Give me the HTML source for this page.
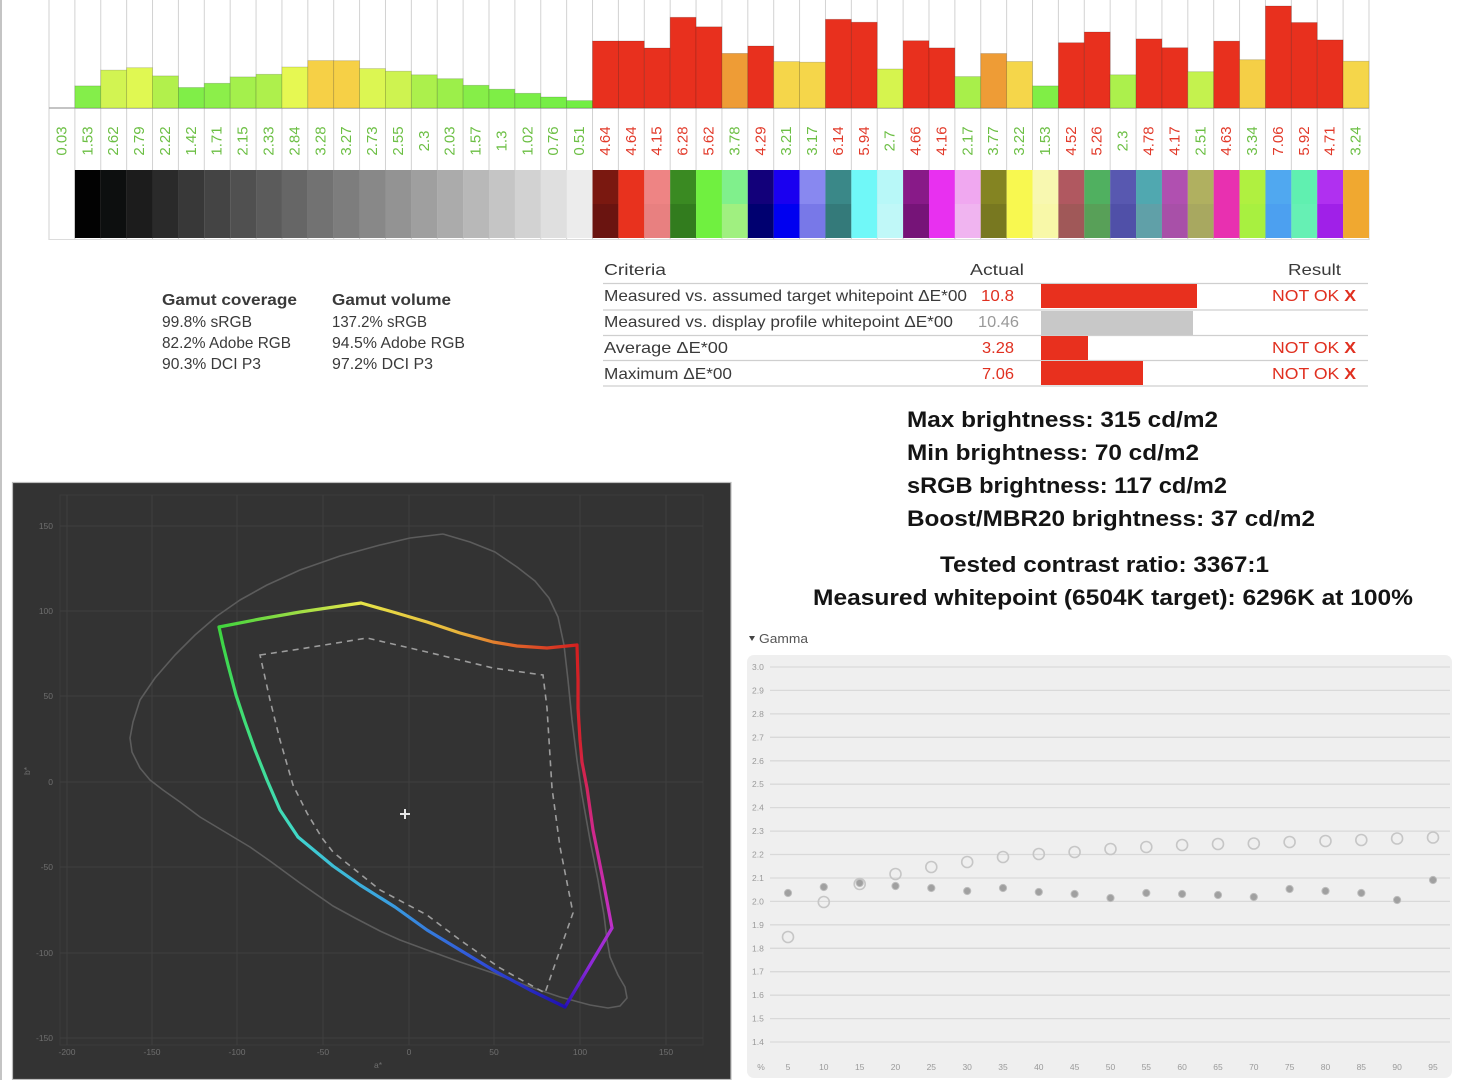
<!DOCTYPE html>
<html><head><meta charset="utf-8"><style>
html,body{margin:0;padding:0;background:#fff;}
svg{display:block;}
text{font-family:"Liberation Sans",Arial,sans-serif;}
.g{fill:#6cbf44;font-size:15px;}
.r{fill:#e23a2a;font-size:15px;}
.tk{fill:#6f6f6f;font-size:8.5px;}
.gy{fill:#9a9a9a;font-size:8.5px;}
.ct{fill:#3a3a3a;font-size:16px;}
.br{fill:#141414;font-size:22px;font-weight:bold;}
.gt{fill:#3a3a3a;font-size:16px;}
</style></head><body>
<svg width="1466" height="1080" viewBox="0 0 1466 1080" xmlns="http://www.w3.org/2000/svg">
<rect x="0" y="0" width="1466" height="1080" fill="#fff"/>
<rect x="0" y="0" width="2" height="1080" fill="#c4c4c4"/>

<!-- ===== top chart column lines ===== -->
<g stroke="#d2d2d2" stroke-width="1">
<line x1="49" y1="0" x2="49" y2="240"/><line x1="74.88" y1="0" x2="74.88" y2="240"/><line x1="100.76" y1="0" x2="100.76" y2="240"/><line x1="126.65" y1="0" x2="126.65" y2="240"/><line x1="152.53" y1="0" x2="152.53" y2="240"/><line x1="178.41" y1="0" x2="178.41" y2="240"/><line x1="204.29" y1="0" x2="204.29" y2="240"/><line x1="230.17" y1="0" x2="230.17" y2="240"/><line x1="256.06" y1="0" x2="256.06" y2="240"/><line x1="281.94" y1="0" x2="281.94" y2="240"/><line x1="307.82" y1="0" x2="307.82" y2="240"/><line x1="333.7" y1="0" x2="333.7" y2="240"/><line x1="359.58" y1="0" x2="359.58" y2="240"/><line x1="385.47" y1="0" x2="385.47" y2="240"/><line x1="411.35" y1="0" x2="411.35" y2="240"/><line x1="437.23" y1="0" x2="437.23" y2="240"/><line x1="463.11" y1="0" x2="463.11" y2="240"/><line x1="489" y1="0" x2="489" y2="240"/><line x1="514.88" y1="0" x2="514.88" y2="240"/><line x1="540.76" y1="0" x2="540.76" y2="240"/><line x1="566.64" y1="0" x2="566.64" y2="240"/><line x1="592.52" y1="0" x2="592.52" y2="240"/><line x1="618.4" y1="0" x2="618.4" y2="240"/><line x1="644.29" y1="0" x2="644.29" y2="240"/><line x1="670.17" y1="0" x2="670.17" y2="240"/><line x1="696.05" y1="0" x2="696.05" y2="240"/><line x1="721.93" y1="0" x2="721.93" y2="240"/><line x1="747.81" y1="0" x2="747.81" y2="240"/><line x1="773.7" y1="0" x2="773.7" y2="240"/><line x1="799.58" y1="0" x2="799.58" y2="240"/><line x1="825.46" y1="0" x2="825.46" y2="240"/><line x1="851.34" y1="0" x2="851.34" y2="240"/><line x1="877.22" y1="0" x2="877.22" y2="240"/><line x1="903.11" y1="0" x2="903.11" y2="240"/><line x1="928.99" y1="0" x2="928.99" y2="240"/><line x1="954.87" y1="0" x2="954.87" y2="240"/><line x1="980.75" y1="0" x2="980.75" y2="240"/><line x1="1006.63" y1="0" x2="1006.63" y2="240"/><line x1="1032.52" y1="0" x2="1032.52" y2="240"/><line x1="1058.4" y1="0" x2="1058.4" y2="240"/><line x1="1084.28" y1="0" x2="1084.28" y2="240"/><line x1="1110.16" y1="0" x2="1110.16" y2="240"/><line x1="1136.04" y1="0" x2="1136.04" y2="240"/><line x1="1161.93" y1="0" x2="1161.93" y2="240"/><line x1="1187.81" y1="0" x2="1187.81" y2="240"/><line x1="1213.69" y1="0" x2="1213.69" y2="240"/><line x1="1239.57" y1="0" x2="1239.57" y2="240"/><line x1="1265.45" y1="0" x2="1265.45" y2="240"/><line x1="1291.34" y1="0" x2="1291.34" y2="240"/><line x1="1317.22" y1="0" x2="1317.22" y2="240"/><line x1="1343.1" y1="0" x2="1343.1" y2="240"/><line x1="1368.98" y1="0" x2="1368.98" y2="240"/>
</g>
<line x1="49" y1="108" x2="1369" y2="108" stroke="#b0b0b0" stroke-width="1.5"/>
<line x1="49" y1="239.5" x2="1369" y2="239.5" stroke="#dcdcdc" stroke-width="1"/>

<!-- ===== bars ===== -->
<g stroke="rgba(0,0,0,0.18)" stroke-width="0.8">
<rect x="74.88" y="85.9" width="25.88" height="22.1" fill="#84ee4a"/>
<rect x="100.76" y="70.1" width="25.88" height="37.9" fill="#d2f452"/>
<rect x="126.65" y="67.7" width="25.88" height="40.3" fill="#e0f852"/>
<rect x="152.53" y="75.9" width="25.88" height="32.1" fill="#b2f04c"/>
<rect x="178.41" y="87.5" width="25.88" height="20.5" fill="#80ee48"/>
<rect x="204.29" y="83.3" width="25.88" height="24.7" fill="#8cef4a"/>
<rect x="230.17" y="76.9" width="25.88" height="31.1" fill="#a4f04c"/>
<rect x="256.06" y="74.3" width="25.88" height="33.7" fill="#aef04c"/>
<rect x="281.94" y="67" width="25.88" height="41" fill="#e6f852"/>
<rect x="307.82" y="60.6" width="25.88" height="47.4" fill="#f6d046"/>
<rect x="333.7" y="60.7" width="25.88" height="47.3" fill="#f6d046"/>
<rect x="359.58" y="68.6" width="25.88" height="39.4" fill="#dcf652"/>
<rect x="385.47" y="71.2" width="25.88" height="36.8" fill="#cef350"/>
<rect x="411.35" y="74.8" width="25.88" height="33.2" fill="#acf04c"/>
<rect x="437.23" y="78.7" width="25.88" height="29.3" fill="#9cef4a"/>
<rect x="463.11" y="85.3" width="25.88" height="22.7" fill="#86ee48"/>
<rect x="489" y="89.2" width="25.88" height="18.8" fill="#7eee46"/>
<rect x="514.88" y="93.3" width="25.88" height="14.7" fill="#7aee46"/>
<rect x="540.76" y="97" width="25.88" height="11" fill="#76ee46"/>
<rect x="566.64" y="100.6" width="25.88" height="7.4" fill="#72ee44"/>
<rect x="592.52" y="41" width="25.88" height="67" fill="#e8301e"/>
<rect x="618.4" y="41" width="25.88" height="67" fill="#e8301e"/>
<rect x="644.29" y="48" width="25.88" height="60" fill="#e8301e"/>
<rect x="670.17" y="17.3" width="25.88" height="90.7" fill="#e8301e"/>
<rect x="696.05" y="26.8" width="25.88" height="81.2" fill="#e8301e"/>
<rect x="721.93" y="53.4" width="25.88" height="54.6" fill="#ee9c36"/>
<rect x="747.81" y="46" width="25.88" height="62" fill="#e8301e"/>
<rect x="773.7" y="61.6" width="25.88" height="46.4" fill="#f5d64a"/>
<rect x="799.58" y="62.2" width="25.88" height="45.8" fill="#f5d64a"/>
<rect x="825.46" y="19.3" width="25.88" height="88.7" fill="#e8301e"/>
<rect x="851.34" y="22.2" width="25.88" height="85.8" fill="#e8301e"/>
<rect x="877.22" y="69" width="25.88" height="39" fill="#d6f44e"/>
<rect x="903.11" y="40.7" width="25.88" height="67.3" fill="#e8301e"/>
<rect x="928.99" y="47.9" width="25.88" height="60.1" fill="#e8301e"/>
<rect x="954.87" y="76.6" width="25.88" height="31.4" fill="#a8ef4a"/>
<rect x="980.75" y="53.5" width="25.88" height="54.5" fill="#ee9c36"/>
<rect x="1006.63" y="61.5" width="25.88" height="46.5" fill="#f5d64a"/>
<rect x="1032.52" y="85.9" width="25.88" height="22.1" fill="#80ee46"/>
<rect x="1058.4" y="42.7" width="25.88" height="65.3" fill="#e8301e"/>
<rect x="1084.28" y="32" width="25.88" height="76" fill="#e8301e"/>
<rect x="1110.16" y="74.8" width="25.88" height="33.2" fill="#acf04c"/>
<rect x="1136.04" y="38.9" width="25.88" height="69.1" fill="#e8301e"/>
<rect x="1161.93" y="47.7" width="25.88" height="60.3" fill="#e8301e"/>
<rect x="1187.81" y="71.7" width="25.88" height="36.3" fill="#c4f24e"/>
<rect x="1213.69" y="41.1" width="25.88" height="66.9" fill="#e8301e"/>
<rect x="1239.57" y="59.7" width="25.88" height="48.3" fill="#f5cf46"/>
<rect x="1265.45" y="6" width="25.88" height="102" fill="#e8301e"/>
<rect x="1291.34" y="22.5" width="25.88" height="85.5" fill="#e8301e"/>
<rect x="1317.22" y="39.9" width="25.88" height="68.1" fill="#e8301e"/>
<rect x="1343.1" y="61.2" width="25.88" height="46.8" fill="#f5d64a"/>
</g>

<!-- ===== value labels ===== -->
<g text-anchor="middle" dominant-baseline="central">
<text class="g" transform="translate(61.94,141) rotate(-90)">0.03</text>
<text class="g" transform="translate(87.82,141) rotate(-90)">1.53</text>
<text class="g" transform="translate(113.7,141) rotate(-90)">2.62</text>
<text class="g" transform="translate(139.59,141) rotate(-90)">2.79</text>
<text class="g" transform="translate(165.47,141) rotate(-90)">2.22</text>
<text class="g" transform="translate(191.35,141) rotate(-90)">1.42</text>
<text class="g" transform="translate(217.23,141) rotate(-90)">1.71</text>
<text class="g" transform="translate(243.11,141) rotate(-90)">2.15</text>
<text class="g" transform="translate(269,141) rotate(-90)">2.33</text>
<text class="g" transform="translate(294.88,141) rotate(-90)">2.84</text>
<text class="g" transform="translate(320.76,141) rotate(-90)">3.28</text>
<text class="g" transform="translate(346.64,141) rotate(-90)">3.27</text>
<text class="g" transform="translate(372.52,141) rotate(-90)">2.73</text>
<text class="g" transform="translate(398.41,141) rotate(-90)">2.55</text>
<text class="g" transform="translate(424.29,141) rotate(-90)">2.3</text>
<text class="g" transform="translate(450.17,141) rotate(-90)">2.03</text>
<text class="g" transform="translate(476.05,141) rotate(-90)">1.57</text>
<text class="g" transform="translate(501.94,141) rotate(-90)">1.3</text>
<text class="g" transform="translate(527.82,141) rotate(-90)">1.02</text>
<text class="g" transform="translate(553.7,141) rotate(-90)">0.76</text>
<text class="g" transform="translate(579.58,141) rotate(-90)">0.51</text>
<text class="r" transform="translate(605.46,141) rotate(-90)">4.64</text>
<text class="r" transform="translate(631.34,141) rotate(-90)">4.64</text>
<text class="r" transform="translate(657.23,141) rotate(-90)">4.15</text>
<text class="r" transform="translate(683.11,141) rotate(-90)">6.28</text>
<text class="r" transform="translate(708.99,141) rotate(-90)">5.62</text>
<text class="g" transform="translate(734.87,141) rotate(-90)">3.78</text>
<text class="r" transform="translate(760.75,141) rotate(-90)">4.29</text>
<text class="g" transform="translate(786.64,141) rotate(-90)">3.21</text>
<text class="g" transform="translate(812.52,141) rotate(-90)">3.17</text>
<text class="r" transform="translate(838.4,141) rotate(-90)">6.14</text>
<text class="r" transform="translate(864.28,141) rotate(-90)">5.94</text>
<text class="g" transform="translate(890.16,141) rotate(-90)">2.7</text>
<text class="r" transform="translate(916.05,141) rotate(-90)">4.66</text>
<text class="r" transform="translate(941.93,141) rotate(-90)">4.16</text>
<text class="g" transform="translate(967.81,141) rotate(-90)">2.17</text>
<text class="g" transform="translate(993.69,141) rotate(-90)">3.77</text>
<text class="g" transform="translate(1019.57,141) rotate(-90)">3.22</text>
<text class="g" transform="translate(1045.46,141) rotate(-90)">1.53</text>
<text class="r" transform="translate(1071.34,141) rotate(-90)">4.52</text>
<text class="r" transform="translate(1097.22,141) rotate(-90)">5.26</text>
<text class="g" transform="translate(1123.1,141) rotate(-90)">2.3</text>
<text class="r" transform="translate(1148.98,141) rotate(-90)">4.78</text>
<text class="r" transform="translate(1174.87,141) rotate(-90)">4.17</text>
<text class="g" transform="translate(1200.75,141) rotate(-90)">2.51</text>
<text class="r" transform="translate(1226.63,141) rotate(-90)">4.63</text>
<text class="g" transform="translate(1252.51,141) rotate(-90)">3.34</text>
<text class="r" transform="translate(1278.39,141) rotate(-90)">7.06</text>
<text class="r" transform="translate(1304.28,141) rotate(-90)">5.92</text>
<text class="r" transform="translate(1330.16,141) rotate(-90)">4.71</text>
<text class="g" transform="translate(1356.04,141) rotate(-90)">3.24</text>
</g>

<!-- ===== swatches ===== -->
<g>
<rect x="74.88" y="170" width="25.9" height="68" fill="#020202"/>
<rect x="100.76" y="170" width="25.9" height="68" fill="#0d0f0f"/>
<rect x="126.65" y="170" width="25.9" height="68" fill="#1c1c1c"/>
<rect x="152.53" y="170" width="25.9" height="68" fill="#2a2a2a"/>
<rect x="178.41" y="170" width="25.9" height="68" fill="#383838"/>
<rect x="204.29" y="170" width="25.9" height="68" fill="#444444"/>
<rect x="230.17" y="170" width="25.9" height="68" fill="#505050"/>
<rect x="256.06" y="170" width="25.9" height="68" fill="#5b5b5b"/>
<rect x="281.94" y="170" width="25.9" height="68" fill="#666666"/>
<rect x="307.82" y="170" width="25.9" height="68" fill="#727272"/>
<rect x="333.7" y="170" width="25.9" height="68" fill="#7d7d7d"/>
<rect x="359.58" y="170" width="25.9" height="68" fill="#888888"/>
<rect x="385.47" y="170" width="25.9" height="68" fill="#939393"/>
<rect x="411.35" y="170" width="25.9" height="68" fill="#9f9f9f"/>
<rect x="437.23" y="170" width="25.9" height="68" fill="#ababab"/>
<rect x="463.11" y="170" width="25.9" height="68" fill="#b8b8b8"/>
<rect x="489" y="170" width="25.9" height="68" fill="#c5c5c5"/>
<rect x="514.88" y="170" width="25.9" height="68" fill="#d2d2d2"/>
<rect x="540.76" y="170" width="25.9" height="68" fill="#dfdfdf"/>
<rect x="566.64" y="170" width="25.9" height="68" fill="#ececec"/>

<rect x="592.52" y="170" width="25.9" height="34" fill="#7a1810"/><rect x="592.52" y="204" width="25.9" height="34" fill="#6a1410"/>
<rect x="618.4" y="170" width="25.9" height="68" fill="#e8321e"/>
<rect x="644.29" y="170" width="25.9" height="34" fill="#ee8484"/><rect x="644.29" y="204" width="25.9" height="34" fill="#e88080"/>
<rect x="670.17" y="170" width="25.9" height="34" fill="#3a8a22"/><rect x="670.17" y="204" width="25.9" height="34" fill="#327c1e"/>
<rect x="696.05" y="170" width="25.9" height="68" fill="#70f040"/>
<rect x="721.93" y="170" width="25.9" height="34" fill="#80f08c"/><rect x="721.93" y="204" width="25.9" height="34" fill="#a0f080"/>
<rect x="747.81" y="170" width="25.9" height="34" fill="#12007a"/><rect x="747.81" y="204" width="25.9" height="34" fill="#000070"/>
<rect x="773.7" y="170" width="25.9" height="34" fill="#1a00f0"/><rect x="773.7" y="204" width="25.9" height="34" fill="#0000f0"/>
<rect x="799.58" y="170" width="25.9" height="34" fill="#8888f0"/><rect x="799.58" y="204" width="25.9" height="34" fill="#7878e8"/>
<rect x="825.46" y="170" width="25.9" height="34" fill="#3a8888"/><rect x="825.46" y="204" width="25.9" height="34" fill="#347a7a"/>
<rect x="851.34" y="170" width="25.9" height="68" fill="#70f8f8"/>
<rect x="877.22" y="170" width="25.9" height="34" fill="#b8f8f8"/><rect x="877.22" y="204" width="25.9" height="34" fill="#c0f8f8"/>
<rect x="903.11" y="170" width="25.9" height="34" fill="#881a88"/><rect x="903.11" y="204" width="25.9" height="34" fill="#761478"/>
<rect x="928.99" y="170" width="25.9" height="68" fill="#e830f0"/>
<rect x="954.87" y="170" width="25.9" height="34" fill="#f0a8f0"/><rect x="954.87" y="204" width="25.9" height="34" fill="#f0b4f0"/>
<rect x="980.75" y="170" width="25.9" height="34" fill="#848422"/><rect x="980.75" y="204" width="25.9" height="34" fill="#787820"/>
<rect x="1006.63" y="170" width="25.9" height="68" fill="#f8f850"/>
<rect x="1032.52" y="170" width="25.9" height="34" fill="#f8f8b0"/><rect x="1032.52" y="204" width="25.9" height="34" fill="#f8f8a8"/>
<rect x="1058.4" y="170" width="25.9" height="34" fill="#b05860"/><rect x="1058.4" y="204" width="25.9" height="34" fill="#a05858"/>
<rect x="1084.28" y="170" width="25.9" height="34" fill="#50b060"/><rect x="1084.28" y="204" width="25.9" height="34" fill="#58a058"/>
<rect x="1110.16" y="170" width="25.9" height="34" fill="#5858b0"/><rect x="1110.16" y="204" width="25.9" height="34" fill="#5050a8"/>
<rect x="1136.04" y="170" width="25.9" height="34" fill="#50a8b0"/><rect x="1136.04" y="204" width="25.9" height="34" fill="#60a0a8"/>
<rect x="1161.93" y="170" width="25.9" height="34" fill="#b050b0"/><rect x="1161.93" y="204" width="25.9" height="34" fill="#a850a8"/>
<rect x="1187.81" y="170" width="25.9" height="34" fill="#b0b060"/><rect x="1187.81" y="204" width="25.9" height="34" fill="#a8a860"/>
<rect x="1213.69" y="170" width="25.9" height="68" fill="#e830b0"/>
<rect x="1239.57" y="170" width="25.9" height="34" fill="#b0f040"/><rect x="1239.57" y="204" width="25.9" height="34" fill="#a8f040"/>
<rect x="1265.45" y="170" width="25.9" height="34" fill="#50a8f0"/><rect x="1265.45" y="204" width="25.9" height="34" fill="#4ca0f0"/>
<rect x="1291.34" y="170" width="25.9" height="34" fill="#60f0b0"/><rect x="1291.34" y="204" width="25.9" height="34" fill="#66f0b4"/>
<rect x="1317.22" y="170" width="25.9" height="34" fill="#b030f0"/><rect x="1317.22" y="204" width="25.9" height="34" fill="#a020e8"/>
<rect x="1343.1" y="170" width="25.9" height="68" fill="#f0a830"/>
</g>

<!-- ===== gamut text ===== -->
<text class="gt" x="162" y="305" font-weight="bold" fill="#222" textLength="135" lengthAdjust="spacingAndGlyphs">Gamut coverage</text>
<text class="gt" x="162" y="327" textLength="90" lengthAdjust="spacingAndGlyphs">99.8% sRGB</text>
<text class="gt" x="162" y="348" textLength="129" lengthAdjust="spacingAndGlyphs">82.2% Adobe RGB</text>
<text class="gt" x="162" y="369" textLength="99" lengthAdjust="spacingAndGlyphs">90.3% DCI P3</text>
<text class="gt" x="332" y="305" font-weight="bold" fill="#222" textLength="119" lengthAdjust="spacingAndGlyphs">Gamut volume</text>
<text class="gt" x="332" y="327" textLength="95" lengthAdjust="spacingAndGlyphs">137.2% sRGB</text>
<text class="gt" x="332" y="348" textLength="133" lengthAdjust="spacingAndGlyphs">94.5% Adobe RGB</text>
<text class="gt" x="332" y="369" textLength="101" lengthAdjust="spacingAndGlyphs">97.2% DCI P3</text>

<!-- ===== criteria table ===== -->
<text class="ct" x="604" y="275" textLength="62" lengthAdjust="spacingAndGlyphs">Criteria</text>
<text class="ct" x="970" y="275" textLength="54" lengthAdjust="spacingAndGlyphs">Actual</text>
<text class="ct" x="1288" y="275" textLength="53" lengthAdjust="spacingAndGlyphs">Result</text>
<g stroke="#cfcfcf" stroke-width="1.2">
<line x1="603" y1="283.5" x2="1368" y2="283.5"/>
<line x1="603" y1="310" x2="1368" y2="310"/>
<line x1="603" y1="335.5" x2="1368" y2="335.5"/>
<line x1="603" y1="360.5" x2="1368" y2="360.5"/>
<line x1="603" y1="386" x2="1368" y2="386"/>
</g>
<rect x="1041" y="284" width="156" height="24" fill="#e8301e"/>
<rect x="1041" y="311" width="152" height="24" fill="#c8c8c8"/>
<rect x="1041" y="336" width="47" height="24" fill="#e8301e"/>
<rect x="1041" y="361" width="102" height="24" fill="#e8301e"/>
<text class="ct" x="604" y="301" textLength="363" lengthAdjust="spacingAndGlyphs">Measured vs. assumed target whitepoint ΔE*00</text>
<text class="ct" x="604" y="327" textLength="349" lengthAdjust="spacingAndGlyphs">Measured vs. display profile whitepoint ΔE*00</text>
<text class="ct" x="604" y="353" textLength="124" lengthAdjust="spacingAndGlyphs">Average ΔE*00</text>
<text class="ct" x="604" y="379" textLength="128" lengthAdjust="spacingAndGlyphs">Maximum ΔE*00</text>
<text class="ct" x="981" y="301" fill="#e03020" textLength="33" lengthAdjust="spacingAndGlyphs" style="fill:#e03020">10.8</text>
<text class="ct" x="978" y="327" textLength="41" lengthAdjust="spacingAndGlyphs" style="fill:#999">10.46</text>
<text class="ct" x="982" y="353" textLength="32" lengthAdjust="spacingAndGlyphs" style="fill:#e03020">3.28</text>
<text class="ct" x="982" y="379" textLength="32" lengthAdjust="spacingAndGlyphs" style="fill:#e03020">7.06</text>
<text class="ct" x="1272" y="301" textLength="84" lengthAdjust="spacingAndGlyphs" style="fill:#e03020">NOT OK <tspan font-weight="bold">X</tspan></text>
<text class="ct" x="1272" y="353" textLength="84" lengthAdjust="spacingAndGlyphs" style="fill:#e03020">NOT OK <tspan font-weight="bold">X</tspan></text>
<text class="ct" x="1272" y="379" textLength="84" lengthAdjust="spacingAndGlyphs" style="fill:#e03020">NOT OK <tspan font-weight="bold">X</tspan></text>

<!-- ===== brightness text ===== -->
<text class="br" x="907" y="427" textLength="311" lengthAdjust="spacingAndGlyphs">Max brightness: 315 cd/m2</text>
<text class="br" x="907" y="460" textLength="292" lengthAdjust="spacingAndGlyphs">Min brightness: 70 cd/m2</text>
<text class="br" x="907" y="493" textLength="320" lengthAdjust="spacingAndGlyphs">sRGB brightness: 117 cd/m2</text>
<text class="br" x="907" y="526" textLength="408" lengthAdjust="spacingAndGlyphs">Boost/MBR20 brightness: 37 cd/m2</text>
<text class="br" x="940" y="572" textLength="329" lengthAdjust="spacingAndGlyphs">Tested contrast ratio: 3367:1</text>
<text class="br" x="813" y="605" textLength="600" lengthAdjust="spacingAndGlyphs">Measured whitepoint (6504K target): 6296K at 100%</text>

<!-- ===== gamut plot ===== -->
<defs>
<linearGradient id="s1" gradientUnits="userSpaceOnUse" x1="219" y1="627" x2="361" y2="603"><stop offset="0" stop-color="#3ed43e"/><stop offset="1" stop-color="#e8e64a"/></linearGradient>
<linearGradient id="s2" gradientUnits="userSpaceOnUse" x1="361" y1="603" x2="577" y2="645"><stop offset="0" stop-color="#e6e448"/><stop offset="0.45" stop-color="#e8b63c"/><stop offset="0.7" stop-color="#e06a2a"/><stop offset="1" stop-color="#d42020"/></linearGradient>
<linearGradient id="s3" gradientUnits="userSpaceOnUse" x1="577" y1="645" x2="612" y2="928"><stop offset="0" stop-color="#d42020"/><stop offset="0.35" stop-color="#d42232"/><stop offset="0.65" stop-color="#d0288a"/><stop offset="1" stop-color="#c030c8"/></linearGradient>
<linearGradient id="s4" gradientUnits="userSpaceOnUse" x1="612" y1="928" x2="565" y2="1007"><stop offset="0" stop-color="#b030d0"/><stop offset="0.5" stop-color="#8a28d8"/><stop offset="1" stop-color="#2a10b8"/></linearGradient>
<linearGradient id="s5" gradientUnits="userSpaceOnUse" x1="565" y1="1007" x2="298" y2="837"><stop offset="0" stop-color="#2010b0"/><stop offset="0.3" stop-color="#3050d8"/><stop offset="0.65" stop-color="#3aa0e0"/><stop offset="1" stop-color="#40d4d0"/></linearGradient>
<linearGradient id="s6" gradientUnits="userSpaceOnUse" x1="298" y1="837" x2="219" y2="627"><stop offset="0" stop-color="#40d8c8"/><stop offset="0.5" stop-color="#40e080"/><stop offset="1" stop-color="#3ed43e"/></linearGradient>
</defs>
<rect x="12.5" y="482.5" width="718.5" height="597" fill="#333333" stroke="#bdbdbd" stroke-width="1.2"/>
<rect x="60" y="495" width="643" height="550" fill="none" stroke="#3b3b3b" stroke-width="1"/>
<g stroke="#3f3f3f" stroke-width="1">
<line x1="60" y1="526" x2="703" y2="526"/><line x1="60" y1="611" x2="703" y2="611"/><line x1="60" y1="696" x2="703" y2="696"/><line x1="60" y1="782" x2="703" y2="782"/><line x1="60" y1="867" x2="703" y2="867"/><line x1="60" y1="953" x2="703" y2="953"/><line x1="60" y1="1038" x2="703" y2="1038"/>
<line x1="67" y1="495" x2="67" y2="1045"/><line x1="152" y1="495" x2="152" y2="1045"/><line x1="237" y1="495" x2="237" y2="1045"/><line x1="323" y1="495" x2="323" y2="1045"/><line x1="409" y1="495" x2="409" y2="1045"/><line x1="494" y1="495" x2="494" y2="1045"/><line x1="580" y1="495" x2="580" y2="1045"/><line x1="666" y1="495" x2="666" y2="1045"/>
</g>
<g class="tk" text-anchor="end">
<text x="53" y="529" class="tk">150</text><text x="53" y="614" class="tk">100</text><text x="53" y="699" class="tk">50</text><text x="53" y="785" class="tk">0</text><text x="53" y="870" class="tk">-50</text><text x="53" y="956" class="tk">-100</text><text x="53" y="1041" class="tk">-150</text>
</g>
<g text-anchor="middle">
<text x="67" y="1055" class="tk">-200</text><text x="152" y="1055" class="tk">-150</text><text x="237" y="1055" class="tk">-100</text><text x="323" y="1055" class="tk">-50</text><text x="409" y="1055" class="tk">0</text><text x="494" y="1055" class="tk">50</text><text x="580" y="1055" class="tk">100</text><text x="666" y="1055" class="tk">150</text>
</g>
<text class="tk" transform="translate(30,771) rotate(-90)" text-anchor="middle">b*</text>
<text class="tk" x="378" y="1068" text-anchor="middle">a*</text>

<polyline fill="none" stroke="#5c5c5c" stroke-width="1.6" stroke-linejoin="round" points="443,534 470,542 495,552 517,567 535,581 549,598 558,617 564,645 568,680 572,720 577,760 582,795 590,840 598,880 604,915 607,940 610,957 618,975 625,987 627,998 620,1006 608,1008 590,1005 560,997 525,985 493,973 460,962 427,950 400,940 380,931 355,918 333,906 300,883 270,861 250,847 220,829 200,817 180,802 163,790 150,780 140,768 132,752 130,738 133,722 140,700 155,678 175,655 195,635 217,616 240,600 267,585 300,570 340,556 380,545 410,538 443,534"/>

<path fill="none" stroke="#9c9c9c" stroke-width="1.6" stroke-dasharray="6 5" d="M260,655 L300,649 L367,638 L427,652 L493,668 L543,675 L547,708 L552,788 L560,847 L573,913 L560,950 L545,993 L500,968 L460,940 L427,915 L380,890 L333,852 L322,838 L307,813 L293,785 L280,740 L270,700 Z"/>

<g fill="none" stroke-width="3.2" stroke-linejoin="round" stroke-linecap="round">
<polyline stroke="url(#s1)" points="219,627 260,619 300,612 361,603"/>
<polyline stroke="url(#s2)" points="361,603 393,612 427,622 460,633 493,642 517,646 547,648 577,645"/>
<polyline stroke="url(#s3)" points="577,645 578,680 578,708 580,740 582,762 587,788 593,830 603,880 612,928"/>
<polyline stroke="url(#s4)" points="612,928 593,960 577,987 565,1007"/>
<polyline stroke="url(#s5)" points="565,1007 530,990 493,970 460,950 427,930 395,907 360,885 333,866 298,837"/>
<polyline stroke="url(#s6)" points="298,837 280,810 267,780 255,750 245,722 236,695 228,665 223,645 219,627"/>
</g>
<g stroke="#e6e6e6" stroke-width="2"><line x1="400" y1="814" x2="410" y2="814"/><line x1="405" y1="809" x2="405" y2="819"/></g>

<!-- ===== gamma chart ===== -->
<polygon points="749,636 755,636 752,641" fill="#444"/>
<text x="759" y="643" font-size="13" fill="#555" textLength="49" lengthAdjust="spacingAndGlyphs">Gamma</text>
<rect x="747" y="655" width="705" height="423" rx="7" fill="#efefef"/>
<g stroke="#d9d9d9" stroke-width="1.3">
<line x1="770" y1="667" x2="1450" y2="667"/><line x1="770" y1="690.4" x2="1450" y2="690.4"/><line x1="770" y1="713.9" x2="1450" y2="713.9"/><line x1="770" y1="737.3" x2="1450" y2="737.3"/><line x1="770" y1="760.8" x2="1450" y2="760.8"/><line x1="770" y1="784.2" x2="1450" y2="784.2"/><line x1="770" y1="807.6" x2="1450" y2="807.6"/><line x1="770" y1="831.1" x2="1450" y2="831.1"/><line x1="770" y1="854.5" x2="1450" y2="854.5"/><line x1="770" y1="878" x2="1450" y2="878"/><line x1="770" y1="901.4" x2="1450" y2="901.4"/><line x1="770" y1="924.8" x2="1450" y2="924.8"/><line x1="770" y1="948.3" x2="1450" y2="948.3"/><line x1="770" y1="971.7" x2="1450" y2="971.7"/><line x1="770" y1="995.2" x2="1450" y2="995.2"/><line x1="770" y1="1018.6" x2="1450" y2="1018.6"/><line x1="770" y1="1042" x2="1450" y2="1042"/>
</g>
<g>
<text class="gy" x="752" y="670">3.0</text><text class="gy" x="752" y="693.4">2.9</text><text class="gy" x="752" y="716.9">2.8</text><text class="gy" x="752" y="740.3">2.7</text><text class="gy" x="752" y="763.8">2.6</text><text class="gy" x="752" y="787.2">2.5</text><text class="gy" x="752" y="810.6">2.4</text><text class="gy" x="752" y="834.1">2.3</text><text class="gy" x="752" y="857.5">2.2</text><text class="gy" x="752" y="881">2.1</text><text class="gy" x="752" y="904.4">2.0</text><text class="gy" x="752" y="927.8">1.9</text><text class="gy" x="752" y="951.3">1.8</text><text class="gy" x="752" y="974.7">1.7</text><text class="gy" x="752" y="998.2">1.6</text><text class="gy" x="752" y="1021.6">1.5</text><text class="gy" x="752" y="1045">1.4</text>
</g>
<g text-anchor="middle">
<text class="gy" x="761" y="1070">%</text>
<text class="gy" x="788" y="1070">5</text><text class="gy" x="823.8" y="1070">10</text><text class="gy" x="859.7" y="1070">15</text><text class="gy" x="895.5" y="1070">20</text><text class="gy" x="931.3" y="1070">25</text><text class="gy" x="967.2" y="1070">30</text><text class="gy" x="1003" y="1070">35</text><text class="gy" x="1038.8" y="1070">40</text><text class="gy" x="1074.6" y="1070">45</text><text class="gy" x="1110.5" y="1070">50</text><text class="gy" x="1146.3" y="1070">55</text><text class="gy" x="1182.1" y="1070">60</text><text class="gy" x="1218" y="1070">65</text><text class="gy" x="1253.8" y="1070">70</text><text class="gy" x="1289.6" y="1070">75</text><text class="gy" x="1325.5" y="1070">80</text><text class="gy" x="1361.3" y="1070">85</text><text class="gy" x="1397.1" y="1070">90</text><text class="gy" x="1433" y="1070">95</text>
</g>
<g fill="#a0a0a0" stroke="#bdbdbd" stroke-width="1">
<circle cx="788" cy="893" r="3.6"/><circle cx="823.8" cy="887" r="3.6"/><circle cx="859.7" cy="883" r="3.6"/><circle cx="895.5" cy="886" r="3.6"/><circle cx="931.3" cy="888" r="3.6"/><circle cx="967.2" cy="891" r="3.6"/><circle cx="1003" cy="888" r="3.6"/><circle cx="1038.8" cy="892" r="3.6"/><circle cx="1074.6" cy="894" r="3.6"/><circle cx="1110.5" cy="898" r="3.6"/><circle cx="1146.3" cy="893" r="3.6"/><circle cx="1182.1" cy="894" r="3.6"/><circle cx="1218" cy="895" r="3.6"/><circle cx="1253.8" cy="897" r="3.6"/><circle cx="1289.6" cy="889" r="3.6"/><circle cx="1325.5" cy="891" r="3.6"/><circle cx="1361.3" cy="893" r="3.6"/><circle cx="1397.1" cy="900" r="3.6"/><circle cx="1433" cy="880" r="3.6"/>
</g>
<g fill="none" stroke="#c6c6c6" stroke-width="1.6">
<circle cx="788" cy="937" r="5.5"/><circle cx="823.8" cy="902" r="5.5"/><circle cx="859.7" cy="884" r="5.5"/><circle cx="895.5" cy="874" r="5.5"/><circle cx="931.3" cy="867" r="5.5"/><circle cx="967.2" cy="862" r="5.5"/><circle cx="1003" cy="857" r="5.5"/><circle cx="1038.8" cy="854" r="5.5"/><circle cx="1074.6" cy="852" r="5.5"/><circle cx="1110.5" cy="849" r="5.5"/><circle cx="1146.3" cy="847" r="5.5"/><circle cx="1182.1" cy="845" r="5.5"/><circle cx="1218" cy="844" r="5.5"/><circle cx="1253.8" cy="843.5" r="5.5"/><circle cx="1289.6" cy="842" r="5.5"/><circle cx="1325.5" cy="841" r="5.5"/><circle cx="1361.3" cy="840" r="5.5"/><circle cx="1397.1" cy="838.5" r="5.5"/><circle cx="1433" cy="837.5" r="5.5"/>
</g>
</svg>
</body></html>
